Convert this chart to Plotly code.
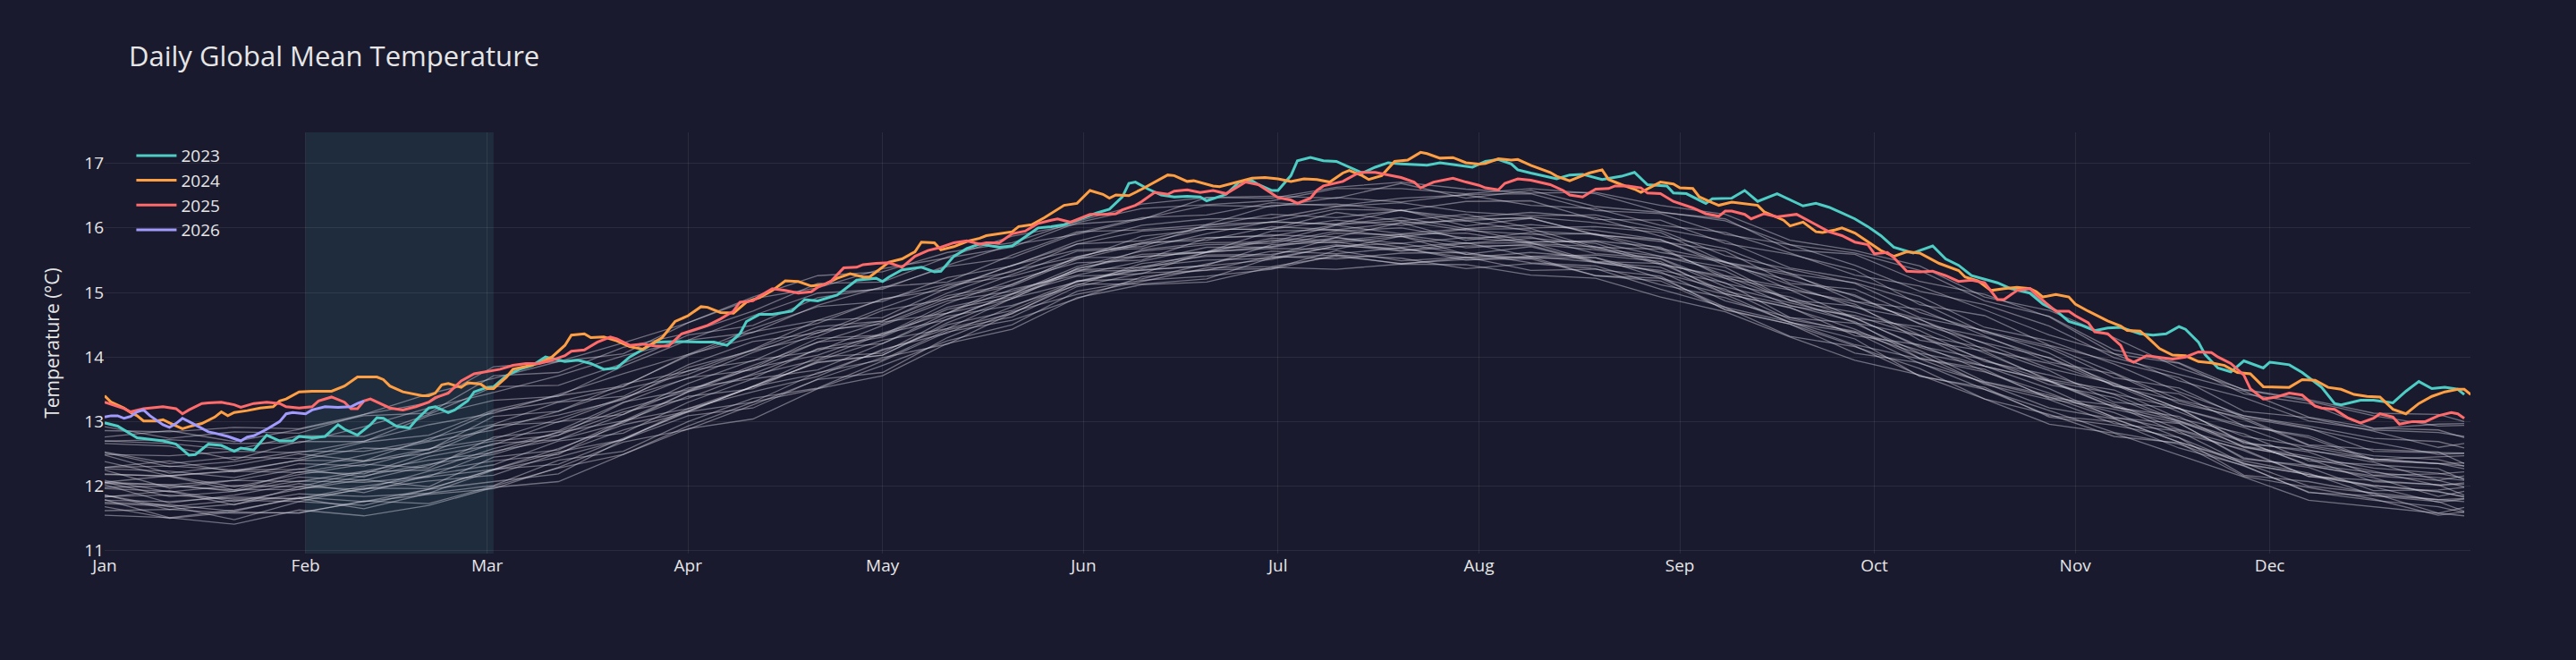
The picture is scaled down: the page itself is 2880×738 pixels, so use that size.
import pandas as pd
import plotly.graph_objects as go

# ---------------- data ----------------
BASE = pd.Timestamp("2023-01-01")
MONTH_TICKS = ["2023-%02d-01" % m for m in range(1, 13)]

# day-of-year samples (0 = Jan 1) for the highlighted years
d2023 = [0,2,5,7,9,11,12,13,14,16,18,20,21,23,25,27,29,30,32,34,36,37,39,41,42,43,45,47,48,50,51,53,54,56,57,59,60,62,64,66,68,71,73,75,77,79,81,83,85,88,90,92,94,96,98,99,101,103,106,108,110,113,116,119,120,121,123,126,128,129,131,133,135,138,140,142,144,146,148,150,153,155,157,158,159,161,163,165,167,169,170,173,175,177,178,180,181,183,184,186,188,190,192,194,196,198,200,202,204,206,209,211,213,215,217,218,220,223,224,226,228,231,234,236,238,241,242,244,247,248,251,253,255,258,261,262,264,266,268,270,272,274,276,279,280,282,284,286,288,290,292,294,297,299,301,303,305,307,309,311,314,316,318,320,321,323,324,326,328,330,333,334,337,339,342,344,345,348,350,353,355,357,359,361,363,364]
t2023 = [12.98,12.93,12.75,12.72,12.70,12.65,12.56,12.48,12.49,12.65,12.63,12.54,12.59,12.56,12.79,12.70,12.70,12.77,12.75,12.77,12.95,12.88,12.79,12.95,13.06,13.05,12.93,12.90,13.02,13.21,13.23,13.14,13.18,13.32,13.46,13.53,13.54,13.71,13.81,13.87,14.00,13.93,13.95,13.90,13.81,13.83,14.00,14.11,14.23,14.24,14.23,14.23,14.23,14.18,14.36,14.55,14.66,14.66,14.71,14.89,14.87,14.96,15.19,15.22,15.17,15.24,15.35,15.39,15.32,15.33,15.56,15.68,15.75,15.70,15.72,15.86,16.00,16.02,16.05,16.12,16.23,16.29,16.48,16.69,16.71,16.60,16.51,16.48,16.49,16.48,16.42,16.52,16.71,16.73,16.67,16.58,16.58,16.81,17.04,17.09,17.04,17.03,16.94,16.85,16.94,17.01,16.99,16.98,16.97,17.01,16.97,16.94,17.03,17.06,16.99,16.90,16.85,16.78,16.76,16.82,16.83,16.75,16.80,16.86,16.67,16.65,16.54,16.53,16.38,16.45,16.46,16.58,16.41,16.53,16.38,16.34,16.38,16.32,16.23,16.14,16.02,15.88,15.70,15.61,15.65,15.72,15.52,15.42,15.26,15.20,15.15,15.06,14.99,14.82,14.72,14.55,14.49,14.41,14.45,14.46,14.36,14.34,14.36,14.47,14.43,14.23,14.04,13.83,13.77,13.94,13.83,13.92,13.88,13.76,13.53,13.28,13.26,13.33,13.33,13.29,13.47,13.62,13.51,13.53,13.50,13.42]

d2024 = [0,1,3,4,5,6,8,9,10,12,13,15,17,18,19,20,22,24,26,27,28,30,32,33,35,37,38,39,40,42,43,44,46,47,49,50,51,52,53,55,56,58,59,60,62,63,65,67,69,71,72,74,75,77,79,81,83,84,86,88,90,92,93,95,97,99,101,103,105,107,109,111,113,115,117,118,120,121,123,125,126,128,129,131,133,135,136,138,140,141,143,145,147,148,150,152,154,155,156,158,160,162,164,165,167,168,171,172,174,177,179,181,183,185,187,189,191,192,194,195,197,199,201,203,204,206,208,210,212,213,215,217,218,220,223,224,226,228,229,231,232,234,236,237,239,240,242,243,245,246,248,249,251,253,255,256,259,260,262,264,265,267,268,270,272,274,276,278,280,281,283,286,287,289,291,293,295,297,298,299,301,303,304,306,309,311,312,314,315,317,319,321,323,325,327,329,331,333,335,337,339,341,343,345,347,349,351,353,355,357,359,361,363,364,365]
t2024 = [13.40,13.30,13.21,13.14,13.09,13.01,13.01,13.03,12.98,12.89,12.92,12.97,13.07,13.15,13.09,13.14,13.17,13.21,13.23,13.32,13.35,13.46,13.47,13.47,13.47,13.55,13.62,13.69,13.69,13.69,13.65,13.55,13.46,13.44,13.40,13.40,13.44,13.57,13.59,13.53,13.60,13.58,13.51,13.51,13.69,13.81,13.85,13.90,14.00,14.18,14.34,14.36,14.30,14.31,14.25,14.16,14.12,14.18,14.30,14.55,14.64,14.78,14.77,14.69,14.68,14.85,14.92,15.03,15.18,15.17,15.10,15.12,15.22,15.29,15.24,15.24,15.40,15.47,15.52,15.63,15.78,15.77,15.66,15.71,15.79,15.84,15.88,15.91,15.94,16.02,16.05,16.16,16.28,16.35,16.38,16.58,16.52,16.46,16.51,16.50,16.60,16.71,16.82,16.81,16.72,16.73,16.65,16.64,16.69,16.77,16.78,16.76,16.72,16.76,16.75,16.71,16.85,16.89,16.81,16.75,16.81,17.03,17.05,17.17,17.15,17.08,17.09,17.01,16.99,17.00,17.07,17.05,17.06,16.97,16.86,16.80,16.73,16.81,16.85,16.90,16.75,16.67,16.60,16.55,16.65,16.71,16.68,16.62,16.61,16.48,16.39,16.35,16.40,16.38,16.35,16.25,16.12,16.03,16.09,15.94,15.93,15.97,16.00,15.92,15.79,15.65,15.56,15.63,15.61,15.56,15.45,15.34,15.24,15.18,15.03,15.06,15.08,15.06,15.01,14.93,14.97,14.93,14.82,14.71,14.56,14.48,14.41,14.40,14.32,14.13,14.03,14.02,13.93,13.91,13.87,13.76,13.74,13.54,13.54,13.53,13.65,13.64,13.53,13.50,13.42,13.39,13.38,13.19,13.12,13.28,13.39,13.46,13.50,13.50,13.42]

d2025 = [0,2,3,4,6,7,9,11,12,13,15,16,18,20,21,23,25,27,28,30,32,33,35,37,38,39,40,41,43,44,46,48,50,51,53,54,55,57,59,61,63,65,67,69,71,72,74,76,78,79,81,83,85,87,89,91,93,95,97,98,100,101,103,105,107,109,110,112,114,116,117,119,121,123,125,127,129,131,133,135,136,138,140,142,144,146,147,149,152,154,156,157,159,160,162,164,165,167,169,171,173,175,176,178,180,181,183,184,186,187,188,191,193,194,196,198,200,202,203,205,208,210,212,213,215,216,218,220,223,225,226,228,230,232,233,235,237,238,240,242,244,245,247,249,250,251,253,254,256,258,261,262,264,266,268,270,272,273,275,276,278,280,282,284,286,288,290,292,293,295,297,298,300,301,303,304,306,307,309,311,312,313,315,317,319,321,323,325,326,328,330,331,333,335,337,339,341,342,344,346,348,350,351,353,354,356,358,360,362,363,364]
t2025 = [13.30,13.24,13.20,13.15,13.20,13.21,13.23,13.20,13.12,13.18,13.28,13.29,13.30,13.26,13.22,13.28,13.30,13.28,13.23,13.21,13.23,13.32,13.38,13.30,13.20,13.20,13.32,13.35,13.25,13.21,13.18,13.23,13.30,13.37,13.44,13.53,13.63,13.74,13.77,13.81,13.87,13.90,13.90,13.95,14.02,14.09,14.11,14.23,14.31,14.28,14.18,14.20,14.17,14.17,14.36,14.43,14.49,14.59,14.71,14.85,14.87,14.94,15.06,15.03,14.99,15.01,15.08,15.17,15.38,15.39,15.43,15.45,15.46,15.39,15.56,15.65,15.70,15.77,15.80,15.75,15.77,15.77,15.91,15.95,16.07,16.12,16.14,16.09,16.21,16.21,16.22,16.28,16.35,16.41,16.55,16.52,16.57,16.59,16.55,16.58,16.53,16.65,16.71,16.67,16.53,16.47,16.43,16.38,16.46,16.58,16.65,16.72,16.83,16.86,16.86,16.82,16.78,16.71,16.62,16.71,16.77,16.71,16.66,16.62,16.59,16.69,16.76,16.74,16.67,16.58,16.51,16.48,16.60,16.61,16.65,16.65,16.62,16.54,16.53,16.41,16.35,16.31,16.22,16.18,16.26,16.26,16.21,16.14,16.22,16.17,16.21,16.16,16.05,15.94,15.88,15.78,15.74,15.60,15.62,15.54,15.33,15.32,15.33,15.26,15.17,15.19,15.15,14.89,14.89,15.03,15.06,14.96,14.80,14.71,14.71,14.64,14.53,14.39,14.36,14.18,13.97,13.92,14.02,14.00,13.97,14.00,14.08,14.07,14.00,13.90,13.72,13.51,13.35,13.38,13.44,13.41,13.24,13.21,13.19,13.06,12.98,13.05,13.12,13.07,12.96,13.00,13.00,13.09,13.14,13.12,13.05]

d2026 = [0,1,2,3,4,5,6,7,9,10,11,12,13,14,16,17,19,21,22,23,25,27,28,29,31,32,34,36,38,39,40]
t2026 = [13.07,13.09,13.09,13.05,13.08,13.15,13.18,13.09,12.95,12.91,12.97,13.05,13.00,12.95,12.84,12.82,12.77,12.70,12.76,12.78,12.88,13.00,13.12,13.14,13.12,13.18,13.23,13.22,13.23,13.28,13.32]

# historical years (grey), sampled every 10 days
grey_days = [0,10,20,30,40,50,60,70,80,90,100,110,120,130,140,150,160,170,180,190,200,210,220,230,240,250,260,270,280,290,300,310,320,330,340,350,360,364]
grey_a1 = [11.55,11.51,11.41,11.63,11.54,11.70,11.98,12.07,12.49,12.89,13.04,13.51,13.71,14.21,14.43,14.92,15.12,15.16,15.39,15.36,15.44,15.43,15.27,15.22,14.93,14.70,14.31,13.95,13.72,13.35,12.96,12.82,12.48,12.14,11.78,11.68,11.57,11.54]
grey_a2 = [11.68,11.50,11.60,11.58,11.77,11.73,12.00,12.28,12.49,12.93,13.30,13.51,13.87,14.25,14.50,15.02,15.19,15.25,15.36,15.58,15.53,15.37,15.45,15.37,15.05,14.77,14.32,14.16,13.82,13.35,13.11,12.77,12.67,12.15,11.98,11.80,11.55,11.60]
grey_a3 = [11.62,11.64,11.58,11.59,11.76,11.87,11.96,12.29,12.68,12.88,13.26,13.65,13.76,14.30,14.70,14.97,15.17,15.38,15.40,15.56,15.45,15.51,15.52,15.26,15.18,14.74,14.51,14.17,13.71,13.50,13.17,12.83,12.65,12.31,11.91,11.78,11.68,11.59]
grey_h1 = [11.79,11.51,11.63,11.81,11.65,11.89,12.01,12.40,12.54,13.00,13.36,13.52,13.94,14.39,14.57,14.91,15.24,15.35,15.37,15.65,15.49,15.55,15.34,15.36,15.25,14.73,14.51,14.06,13.91,13.50,13.09,13.00,12.59,12.32,11.90,11.85,11.76,11.61]
grey_h2 = [11.73,11.69,11.48,11.76,11.70,11.95,12.07,12.19,12.72,13.09,13.21,13.66,13.99,14.20,14.68,15.13,15.13,15.21,15.54,15.58,15.44,15.54,15.55,15.26,15.22,14.77,14.54,14.28,13.70,13.53,13.07,12.94,12.75,12.17,12.07,11.89,11.58,11.67]
grey_b1 = [11.75,11.71,11.61,11.83,11.76,11.95,12.26,12.34,12.74,13.15,13.30,13.76,13.96,14.42,14.62,15.09,15.30,15.34,15.56,15.52,15.61,15.62,15.46,15.41,15.12,14.92,14.54,14.19,13.97,13.60,13.21,13.04,12.68,12.36,12.00,11.89,11.79,11.76]
grey_b2 = [11.86,11.68,11.78,11.76,11.97,11.96,12.26,12.53,12.72,13.17,13.54,13.74,14.10,14.44,14.67,15.17,15.35,15.41,15.51,15.72,15.68,15.54,15.62,15.54,15.22,14.97,14.53,14.38,14.05,13.58,13.34,12.97,12.85,12.35,12.18,11.99,11.75,11.80]
grey_b3 = [11.84,11.86,11.80,11.81,12.00,12.14,12.26,12.58,12.95,13.16,13.54,13.92,14.03,14.53,14.91,15.16,15.37,15.58,15.59,15.74,15.64,15.72,15.73,15.47,15.39,14.98,14.76,14.43,13.98,13.77,13.44,13.07,12.87,12.55,12.15,12.01,11.92,11.83]
grey_b4 = [11.86,11.64,11.72,11.88,11.84,11.89,12.25,12.45,12.72,13.20,13.46,13.70,14.12,14.37,14.78,15.18,15.21,15.44,15.64,15.60,15.69,15.50,15.56,15.47,15.32,14.87,14.61,14.38,13.90,13.61,13.38,13.05,12.68,12.39,12.20,11.86,11.79,11.81]
grey_b5 = [11.78,11.76,11.83,11.81,11.95,12.08,12.17,12.51,12.87,13.15,13.55,13.91,14.03,14.50,14.72,15.17,15.40,15.50,15.53,15.72,15.76,15.59,15.53,15.54,15.30,15.05,14.58,14.40,14.10,13.62,13.41,13.14,12.75,12.34,12.18,12.01,11.91,11.84]
grey_i1 = [11.83,11.93,11.76,11.95,12.10,11.99,12.45,12.56,13.01,13.20,13.54,14.00,14.06,14.59,14.97,15.25,15.29,15.63,15.68,15.67,15.87,15.59,15.71,15.46,15.34,15.15,14.61,14.52,14.06,13.86,13.51,13.06,12.97,12.44,12.29,11.93,11.94,11.98]
grey_i2 = [12.02,11.74,11.86,12.04,11.90,12.17,12.33,12.70,12.82,13.30,13.66,13.80,14.21,14.63,14.80,15.11,15.45,15.56,15.57,15.85,15.70,15.77,15.56,15.58,15.48,14.98,14.77,14.33,14.19,13.78,13.37,13.25,12.82,12.57,12.15,12.09,12.02,11.86]
grey_i3 = [11.96,11.92,11.71,11.99,11.95,12.23,12.39,12.49,13.00,13.39,13.51,13.94,14.26,14.44,14.91,15.33,15.34,15.42,15.74,15.78,15.65,15.76,15.77,15.48,15.45,15.02,14.80,14.55,13.98,13.81,13.35,13.19,12.98,12.42,12.32,12.13,11.84,11.92]
grey_c1 = [12.06,11.84,11.92,12.08,12.06,12.15,12.54,12.72,12.98,13.46,13.72,13.96,14.36,14.58,14.98,15.35,15.39,15.62,15.81,15.77,15.87,15.69,15.75,15.66,15.52,15.09,14.84,14.61,14.15,13.86,13.63,13.27,12.88,12.61,12.42,12.07,12.02,12.03]
grey_c2 = [12.06,12.02,11.92,12.14,12.09,12.32,12.66,12.72,13.11,13.52,13.67,14.13,14.31,14.74,14.93,15.37,15.59,15.63,15.84,15.80,15.90,15.92,15.76,15.71,15.43,15.25,14.88,14.53,14.33,13.96,13.57,13.37,12.99,12.69,12.33,12.21,12.13,12.09]
grey_c3 = [12.04,12.02,12.09,12.07,12.23,12.40,12.52,12.84,13.19,13.47,13.87,14.23,14.33,14.77,14.98,15.40,15.64,15.74,15.76,15.95,16.00,15.84,15.78,15.79,15.56,15.33,14.87,14.69,14.41,13.93,13.72,13.42,13.01,12.62,12.46,12.28,12.20,12.12]
grey_c4 = [11.98,12.00,11.94,11.95,12.16,12.34,12.49,12.79,13.15,13.36,13.74,14.12,14.21,14.68,15.05,15.27,15.49,15.70,15.70,15.85,15.76,15.85,15.86,15.60,15.53,15.14,14.93,14.60,14.17,13.96,13.63,13.23,13.01,12.71,12.31,12.16,12.09,11.99]
grey_c5 = [12.09,11.91,12.01,11.99,12.22,12.25,12.58,12.83,13.01,13.46,13.83,14.03,14.37,14.68,14.90,15.37,15.56,15.62,15.71,15.92,15.89,15.76,15.84,15.76,15.45,15.22,14.79,14.64,14.33,13.86,13.62,13.22,13.08,12.60,12.43,12.23,12.01,12.05]
grey_j1 = [12.06,12.16,11.99,12.18,12.34,12.28,12.76,12.86,13.30,13.49,13.83,14.29,14.34,14.83,15.19,15.46,15.50,15.84,15.89,15.86,16.08,15.81,15.93,15.68,15.56,15.39,14.88,14.79,14.34,14.14,13.79,13.30,13.20,12.68,12.53,12.17,12.19,12.22]
grey_j2 = [12.19,12.15,11.94,12.22,12.19,12.52,12.70,12.79,13.29,13.68,13.80,14.23,14.54,14.68,15.13,15.54,15.55,15.63,15.95,15.97,15.86,15.98,15.99,15.70,15.67,15.26,15.07,14.82,14.26,14.09,13.63,13.43,13.21,12.66,12.56,12.37,12.09,12.16]
grey_j3 = [12.25,11.97,12.09,12.27,12.14,12.46,12.64,13.00,13.11,13.59,13.95,14.09,14.49,14.87,15.02,15.32,15.66,15.77,15.78,16.04,15.91,15.99,15.78,15.80,15.70,15.22,15.04,14.60,14.47,14.06,13.65,13.49,13.05,12.81,12.39,12.33,12.27,12.10]
grey_d1 = [12.18,12.16,12.23,12.21,12.38,12.58,12.73,13.04,13.37,13.67,14.07,14.41,14.51,14.91,15.10,15.51,15.75,15.85,15.87,16.05,16.11,15.96,15.90,15.91,15.68,15.48,15.04,14.86,14.59,14.11,13.90,13.57,13.15,12.77,12.61,12.42,12.35,12.27]
grey_d2 = [12.38,12.16,12.24,12.40,12.39,12.51,12.93,13.10,13.34,13.84,14.10,14.32,14.72,14.90,15.28,15.64,15.68,15.91,16.10,16.05,16.16,15.99,16.05,15.96,15.82,15.42,15.19,14.96,14.51,14.22,13.99,13.60,13.20,12.94,12.75,12.39,12.35,12.36]
grey_d3 = [12.27,12.23,12.13,12.35,12.31,12.57,12.94,12.99,13.36,13.79,13.94,14.38,14.56,14.95,15.12,15.55,15.77,15.81,16.02,15.97,16.08,16.11,15.95,15.90,15.62,15.47,15.12,14.77,14.58,14.21,13.82,13.59,13.20,12.91,12.55,12.42,12.35,12.31]
grey_d4 = [12.29,12.31,12.25,12.26,12.48,12.69,12.87,13.16,13.50,13.73,14.11,14.47,14.56,14.99,15.34,15.55,15.77,15.98,15.98,16.12,16.04,16.14,16.15,15.89,15.82,15.46,15.27,14.94,14.52,14.31,13.98,13.55,13.32,13.03,12.63,12.47,12.41,12.31]
grey_k1 = [12.29,12.39,12.22,12.41,12.59,12.56,13.08,13.16,13.58,13.78,14.12,14.57,14.61,15.07,15.42,15.66,15.71,16.05,16.09,16.06,16.28,16.03,16.15,15.90,15.79,15.64,15.14,15.05,14.61,14.41,14.06,13.55,13.43,12.93,12.78,12.41,12.45,12.47]
grey_k2 = [12.48,12.20,12.32,12.50,12.39,12.74,12.96,13.30,13.39,13.88,14.24,14.37,14.76,15.11,15.25,15.52,15.87,15.98,15.98,16.24,16.11,16.21,16.00,16.02,15.93,15.47,15.30,14.86,14.74,14.33,13.92,13.74,13.28,13.06,12.64,12.57,12.53,12.35]
grey_e1 = [12.53,12.35,12.45,12.43,12.68,12.79,13.18,13.40,13.55,14.02,14.39,14.57,14.89,15.13,15.32,15.75,15.95,16.01,16.09,16.29,16.27,16.16,16.24,16.16,15.87,15.68,15.29,15.15,14.85,14.38,14.14,13.68,13.52,13.06,12.89,12.68,12.49,12.51]
grey_e2 = [12.49,12.47,12.54,12.52,12.70,12.95,13.13,13.42,13.74,14.04,14.44,14.78,14.86,15.23,15.41,15.79,16.04,16.14,16.15,16.33,16.39,16.25,16.19,16.20,15.99,15.80,15.38,15.21,14.94,14.46,14.25,13.89,13.46,13.09,12.93,12.74,12.69,12.59]
grey_e3 = [12.52,12.30,12.38,12.54,12.54,12.71,13.16,13.31,13.54,14.04,14.30,14.52,14.90,15.05,15.42,15.75,15.80,16.03,16.21,16.16,16.27,16.11,16.17,16.08,15.96,15.57,15.36,15.14,14.69,14.40,14.17,13.75,13.34,13.09,12.90,12.54,12.52,12.51]
grey_l1 = [12.66,12.62,12.41,12.69,12.69,13.09,13.33,13.39,13.86,14.26,14.38,14.80,15.09,15.16,15.58,15.94,15.97,16.05,16.35,16.37,16.27,16.41,16.42,16.13,16.12,15.76,15.59,15.35,14.81,14.64,14.18,13.93,13.68,13.16,13.06,12.85,12.60,12.66]
grey_f1 = [12.70,12.72,12.66,12.67,12.92,13.21,13.45,13.71,14.02,14.26,14.64,14.99,15.05,15.42,15.74,15.90,16.14,16.35,16.33,16.47,16.40,16.52,16.53,16.27,16.22,15.90,15.74,15.42,15.02,14.81,14.48,13.99,13.73,13.47,13.07,12.90,12.87,12.75]
grey_f2 = [12.70,12.66,12.56,12.78,12.77,13.11,13.54,13.56,13.90,14.34,14.49,14.92,15.07,15.40,15.54,15.92,16.16,16.20,16.39,16.34,16.46,16.51,16.35,16.30,16.04,15.93,15.61,15.27,15.10,14.73,14.34,14.05,13.63,13.37,13.01,12.87,12.83,12.77]
grey_m1 = [12.76,12.86,12.69,12.88,13.09,13.13,13.71,13.76,14.15,14.37,14.71,15.14,15.16,15.55,15.87,16.06,16.13,16.47,16.49,16.46,16.69,16.46,16.58,16.33,16.24,16.14,15.66,15.59,15.17,14.97,14.62,14.05,13.90,13.43,13.28,12.89,12.96,12.97]
grey_g1 = [12.86,12.84,12.91,12.89,13.11,13.43,13.67,13.93,14.22,14.53,14.93,15.26,15.32,15.62,15.77,16.10,16.37,16.47,16.46,16.63,16.71,16.60,16.54,16.55,16.35,16.21,15.81,15.65,15.41,14.93,14.72,14.30,13.83,13.50,13.34,13.13,13.11,13.00]
grey_g2 = [12.92,12.74,12.84,12.82,13.11,13.29,13.85,13.93,14.05,14.53,14.90,15.07,15.37,15.54,15.70,16.08,16.30,16.36,16.42,16.61,16.61,16.53,16.61,16.53,16.25,16.11,15.74,15.61,15.34,14.87,14.63,14.11,13.91,13.49,13.32,13.09,12.93,12.94]

grey_series = [grey_a1, grey_a2, grey_a3, grey_h1, grey_h2, grey_b1, grey_b2, grey_b3, grey_b4,
               grey_b5, grey_i1, grey_i2, grey_i3, grey_c1, grey_c2, grey_c3, grey_c4, grey_c5,
               grey_j1, grey_j2, grey_j3, grey_d1, grey_d2, grey_d3, grey_d4, grey_k1, grey_k2,
               grey_e1, grey_e2, grey_e3, grey_l1, grey_f1, grey_f2, grey_m1, grey_g1, grey_g2]

highlight = [
    ("2023", d2023, t2023, "#4ECDC4"),
    ("2024", d2024, t2024, "#FF9F43"),
    ("2025", d2025, t2025, "#FF6B6B"),
    ("2026", d2026, t2026, "#A29BFE"),
]

SHADE_START = "2023-02-01"
SHADE_END = "2023-03-02"


def to_dates(days):
    return BASE + pd.to_timedelta(days, unit="D")


# ---------------- figure ----------------
BG = "#1a1a2e"
GRID = "rgba(255,255,255,0.08)"
TXT = "#e6e6e6"

fig = go.Figure()

gx = to_dates(grey_days)
for s in grey_series:
    fig.add_trace(go.Scatter(x=gx, y=s, mode="lines",
                             line=dict(color="rgba(218,218,230,0.44)", width=1.3),
                             showlegend=False, hoverinfo="skip"))

for name, d, t, c in highlight:
    fig.add_trace(go.Scatter(x=to_dates(d), y=t, mode="lines", name=name,
                             line=dict(color=c, width=3)))

fig.add_shape(type="rect", xref="x", yref="paper", x0=SHADE_START, x1=SHADE_END,
              y0=0, y1=1, fillcolor="rgba(78,205,196,0.1)", line_width=0, layer="below")

fig.update_layout(
    width=2880, height=738,
    paper_bgcolor=BG, plot_bgcolor=BG,
    margin=dict(l=117, r=118, t=148, b=119),
    font=dict(family="Open Sans, sans-serif", size=19, color=TXT),
    title=dict(text="Daily Global Mean Temperature", x=0.05, xanchor="left",
               y=1 - 63 / 738, yanchor="middle", font=dict(size=31, color=TXT)),
    legend=dict(x=0.0115, y=0.985, xanchor="left", yanchor="top",
                bgcolor="rgba(0,0,0,0)", font=dict(size=19, color=TXT), itemwidth=45),
    xaxis=dict(range=["2023-01-01", "2023-12-31 23:00"], tickvals=MONTH_TICKS,
               tickformat="%b", showgrid=True, gridcolor=GRID, zeroline=False,
               showline=False, tickfont=dict(size=19, color=TXT)),
    yaxis=dict(range=[10.955, 17.48], dtick=1, showgrid=True, gridcolor=GRID,
               zeroline=False, showline=False, tickfont=dict(size=19, color=TXT),
               title=dict(text="Temperature (°C)", standoff=21,
                          font=dict(size=21, color=TXT))),
)

fig.write_html("out.html")
